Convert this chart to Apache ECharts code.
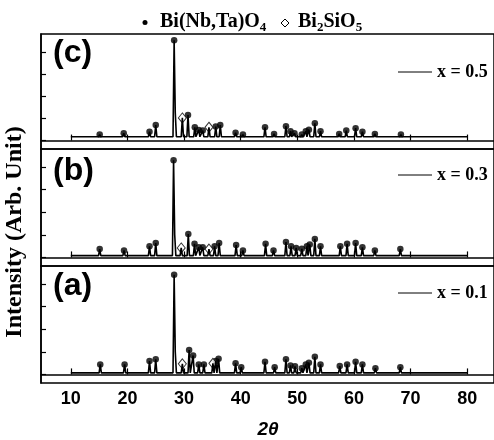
<!DOCTYPE html>
<html>
<head>
<meta charset="utf-8">
<script src="https://cdn.jsdelivr.net/npm/echarts@6/dist/echarts.min.js"></script>
<style>html,body{margin:0;padding:0;background:#fff;}</style>
</head>
<body>
<div id="main" style="width: 494px;height:440px;"></div>
<script type="text/javascript">
    // tick labels
    var xTicks = [10, 20, 30, 40, 50, 60, 70, 80];
    var yTicks = [0, 1, 2, 3, 4];
    var panelNames = ['(c)', '(b)', '(a)'];
    var sampleNames = ['x = 0.5', 'x = 0.3', 'x = 0.1'];
    var baseLevel = [0.17, 0.08, 0.07];

    // Bi(Nb,Ta)O4 peaks (2θ, height), panel c / b / a
    var dotPosC = [15.1, 19.35, 23.9, 25.0, 28.25, 30.7, 31.9, 32.6, 33.3, 35.6, 36.4, 39.1, 40.4, 44.3, 45.9, 48.0, 48.8, 49.5, 50.8, 51.5, 52.05, 53.1, 54.1, 57.4, 58.65, 60.3, 61.5, 63.7, 68.3];
    var dotHC = [0.27, 0.33, 0.40, 0.70, 4.52, 1.15, 0.60, 0.48, 0.45, 0.63, 0.70, 0.35, 0.27, 0.60, 0.30, 0.65, 0.42, 0.33, 0.27, 0.42, 0.49, 0.78, 0.42, 0.30, 0.45, 0.56, 0.40, 0.30, 0.27];
    var dotPosB = [15.1, 19.4, 23.9, 25.0, 28.15, 30.75, 31.85, 32.6, 33.3, 35.4, 36.2, 39.2, 40.4, 44.4, 45.8, 48.0, 48.9, 49.8, 50.8, 51.7, 52.2, 53.1, 54.1, 57.6, 58.8, 60.3, 61.5, 63.7, 68.2];
    var dotHB = [0.37, 0.31, 0.49, 0.64, 4.30, 1.04, 0.60, 0.45, 0.45, 0.49, 0.64, 0.55, 0.31, 0.60, 0.31, 0.68, 0.49, 0.42, 0.38, 0.49, 0.57, 0.82, 0.49, 0.49, 0.60, 0.64, 0.45, 0.31, 0.37];
    var dotPosA = [15.2, 19.5, 23.9, 25.0, 28.25, 30.9, 31.6, 32.6, 33.5, 35.6, 36.1, 39.1, 40.1, 44.3, 46.0, 48.0, 48.8, 49.6, 50.8, 51.5, 52.05, 53.1, 54.1, 57.5, 58.8, 60.3, 61.5, 63.8, 68.2];
    var dotHA = [0.44, 0.44, 0.59, 0.67, 4.41, 1.08, 0.84, 0.44, 0.44, 0.59, 0.69, 0.49, 0.32, 0.56, 0.32, 0.67, 0.40, 0.36, 0.27, 0.44, 0.52, 0.78, 0.44, 0.37, 0.44, 0.56, 0.44, 0.27, 0.32];

    // Bi2SiO5 peaks
    var diaPosC = [29.7, 34.4];
    var diaHC = [1.02, 0.60];
    var diaPosB = [29.5, 34.4];
    var diaHB = [0.42, 0.37];
    var diaPosA = [29.7, 35.1];
    var diaHA = [0.47, 0.49];

    // unmarked shoulder next to the main peak
    var shPosC = [28.45];
    var shHC = [1.25];
    var shPosB = [28.35];
    var shHB = [1.0];
    var shPosA = [28.45];
    var shHA = [1.0];

    var panels = [
        {dp: dotPosC, dh: dotHC, ip: diaPosC, ih: diaHC, sp: shPosC, sh: shHC},
        {dp: dotPosB, dh: dotHB, ip: diaPosB, ih: diaHB, sp: shPosB, sh: shHB},
        {dp: dotPosA, dh: dotHA, ip: diaPosA, ih: diaHA, sp: shPosA, sh: shHA}
    ];

    function pairs(p, h) {
        return p.map(function (v, i) { return [v, h[i]]; });
    }

    // pattern line: narrow triangles on the baseline
    function pattern(pk, base) {
        var w = 0.2;
        var xs = [10, 80];
        pk.forEach(function (q) { xs.push(q[0] - w, q[0], q[0] + w); });
        xs.sort(function (a, b) { return a - b; });
        return xs.map(function (x) {
            var y = base;
            pk.forEach(function (q) {
                var t = q[1] - (q[1] - base) * Math.abs(x - q[0]) / w;
                if (t > y) y = t;
            });
            return [x, y];
        });
    }

    var tops = [34, 149, 266];
    var heights = [115, 117, 117];
    var grid = [], xAxis = [], yAxis = [], series = [];

    panels.forEach(function (p, i) {
        grid.push({left: 41, right: -3, top: tops[i], height: heights[i],
            show: true, borderColor: '#000', borderWidth: 1.5});
        xAxis.push({
            type: 'value', gridIndex: i, min: 4.737, max: 84.74,
            axisLine: {show: true, lineStyle: {color: '#000', width: 1.5}},
            axisTick: {show: true, inside: true, length: 6, customValues: xTicks,
                lineStyle: {color: '#000', width: 1.2}},
            axisLabel: {show: i === 2, customValues: xTicks, color: '#000', fontSize: 18,
                fontWeight: 'bold', fontFamily: 'Liberation Sans', margin: 7},
            splitLine: {show: false}
        });
        yAxis.push({
            type: 'value', gridIndex: i, min: -0.38, max: 4.8,
            axisLine: {show: true, lineStyle: {color: '#000', width: 1.5}},
            axisTick: {show: true, inside: true, length: 5, customValues: yTicks,
                lineStyle: {color: '#000', width: 1.2}},
            axisLabel: {show: false},
            splitLine: {show: false}
        });
        var dots = pairs(p.dp, p.dh);
        var dias = pairs(p.ip, p.ih);
        var all = dots.concat(dias, pairs(p.sp, p.sh));
        series.push({
            type: 'line', xAxisIndex: i, yAxisIndex: i, data: pattern(all, baseLevel[i]),
            showSymbol: false, silent: true, animation: false,
            lineStyle: {color: '#000', width: 1.6}
        });
        series.push({
            type: 'scatter', xAxisIndex: i, yAxisIndex: i, data: dots,
            symbol: 'circle', symbolSize: 6.5, animation: false,
            itemStyle: {color: '#000'}
        });
        series.push({
            type: 'scatter', xAxisIndex: i, yAxisIndex: i, data: dias,
            symbol: 'diamond', symbolSize: [8, 10], animation: false,
            itemStyle: {color: '#fff', borderColor: '#000', borderWidth: 1}
        });
    });

    var labelY = [56, 174, 289];
    var sampleY = [72, 175, 293];
    var graphic = [];
    var serif = 'Liberation Serif';
    var subRich = {
        a: {fontSize: 20, fontWeight: 'bold', fontFamily: serif, lineHeight: 24, fill: '#000'},
        s: {fontSize: 13, fontWeight: 'bold', fontFamily: serif, lineHeight: 13, verticalAlign: 'bottom', fill: '#000'}
    };
    panelNames.forEach(function (n, i) {
        graphic.push({type: 'text', left: 53, top: labelY[i] - 19,
            style: {text: n, fontSize: 32, fontWeight: 'bold', fontFamily: 'Liberation Sans', fill: '#000'}});
        graphic.push({type: 'line', shape: {x1: 398, y1: sampleY[i], x2: 432, y2: sampleY[i]},
            style: {stroke: '#000', lineWidth: 1}});
        graphic.push({type: 'text', x: 437, y: sampleY[i],
            style: {text: sampleNames[i], fontSize: 18, fontWeight: 'bold', fontFamily: serif,
                fill: '#000', verticalAlign: 'middle'}});
    });
    // legend at the top
    graphic.push({type: 'circle', shape: {cx: 145, cy: 22.5, r: 2.5}, style: {fill: '#000'}});
    graphic.push({type: 'text', x: 160, y: 22,
        style: {text: '{a|Bi(Nb,Ta)O}{s|4}', rich: subRich, verticalAlign: 'middle'}});
    graphic.push({type: 'polygon', shape: {points: [[285, 19], [289, 23], [285, 27], [281, 23]]},
        style: {fill: '#fff', stroke: '#000', lineWidth: 1}});
    graphic.push({type: 'text', x: 298, y: 22,
        style: {text: '{a|Bi}{s|2}{a|SiO}{s|5}', rich: subRich, verticalAlign: 'middle'}});
    // axis titles
    graphic.push({type: 'text', x: 268, y: 430,
        style: {text: '2θ', fontSize: 19, fontWeight: 'bold', fontStyle: 'italic',
            fontFamily: 'Liberation Sans', fill: '#000', align: 'center', verticalAlign: 'middle'}});
    graphic.push({type: 'text', x: 15, y: 232, rotation: Math.PI / 2,
        style: {text: 'Intensity (Arb. Unit)', fontSize: 24, fontWeight: 'bold',
            fontFamily: serif, fill: '#000', align: 'center', verticalAlign: 'middle'}});

    var myChart = echarts.init(document.getElementById('main'));
    myChart.setOption({
        animation: false,
        grid: grid,
        xAxis: xAxis,
        yAxis: yAxis,
        series: series,
        graphic: graphic
    });
</script>
</body>
</html>
